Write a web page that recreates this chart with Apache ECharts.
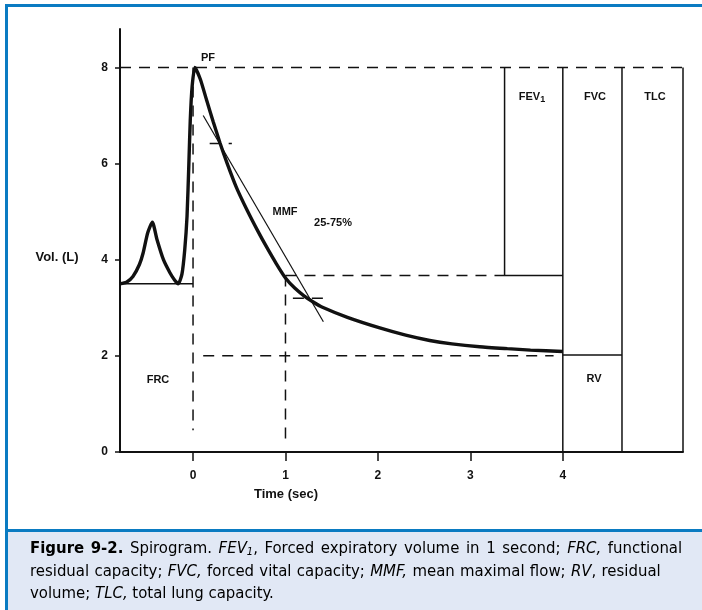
<!DOCTYPE html>
<html>
<head>
<meta charset="utf-8">
<script src="https://cdn.jsdelivr.net/npm/echarts@6/dist/echarts.min.js"></script>
<style>
html,body{margin:0;padding:0;background:#fff;}
#chart{width:702px;height:610px;}
</style>
</head>
<body>
<div id="chart"></div>
<script>
// ---- data (time in sec, volume in L) ----
const xTickValues = [0, 1, 2, 3, 4];
const yTickValues = [0, 2, 4, 6, 8];
const spiroCurve = [
  [-0.79, 3.5], [-0.72, 3.53], [-0.65, 3.65], [-0.58, 3.9], [-0.54, 4.14], [-0.49, 4.56], [-0.44, 4.78],
  [-0.39, 4.42], [-0.32, 4.0], [-0.25, 3.73], [-0.2, 3.58], [-0.16, 3.5],
  [-0.12, 3.7], [-0.09, 4.2], [-0.065, 4.9], [-0.045, 6.0], [-0.03, 6.9], [-0.01, 7.6], [0.02, 8.0],
  [0.08, 7.75], [0.15, 7.3], [0.22, 6.86], [0.29, 6.44], [0.37, 6.0], [0.47, 5.5], [0.58, 5.05],
  [0.7, 4.6], [0.8, 4.25], [0.9, 3.92], [1.0, 3.62], [1.1, 3.41], [1.2, 3.25], [1.3, 3.12], [1.4, 3.01],
  [1.67, 2.8], [2.02, 2.58], [2.3, 2.43], [2.56, 2.32], [2.8, 2.25], [3.1, 2.19], [3.4, 2.15],
  [3.65, 2.12], [4.0, 2.09]
];
const frcBaseline = [[-0.79, 3.5], [0, 3.5]];
const mmfLine = [[0.11, 7.0], [1.41, 2.71]];
const fev1Box = [[3.37, 8], [3.37, 3.67], [4, 3.67]];
const fvcLeft = [[4, 8], [4, 0]];
const fvcRight = [[4.64, 8], [4.64, 0]];
const tlcRight = [[5.3, 8], [5.3, 0]];
const rvTop = [[4, 2.02], [4.64, 2.02]];
const tlcDashed = [[-0.79, 8], [5.3, 8]];
const zeroDashed = [[0, 8], [0, 0.45]];
const oneSecDashed = [[1, 3.67], [1, 0.25]];
const fev1Dashed = [[1, 3.67], [3.37, 3.67]];
const rvDashed = [[0.11, 2.0], [3.9, 2.0]];
const mmf25Dashed = [[0.18, 6.42], [0.42, 6.42]];
const mmf75Dashed = [[1.08, 3.2], [1.43, 3.2]];

const captionLine1 = [['b', 'Figure 9-2.'], ['r', ' Spirogram. '], ['i', 'FEV'], ['is', '1'], ['r', ', Forced expiratory volume in 1 second; '], ['i', 'FRC,'], ['r', ' functional']];
const captionLine2 = [['r', 'residual capacity; '], ['i', 'FVC,'], ['r', ' forced vital capacity; '], ['i', 'MMF,'], ['r', ' mean maximal flow; '], ['i', 'RV'], ['r', ', residual']];
const captionLine3 = [['r', 'volume; '], ['i', 'TLC,'], ['r', ' total lung capacity.']];

const boldFont = "'Liberation Sans', Arial, sans-serif";
const capFont = "'Liberation Sans Narrow', 'DejaVu Sans Condensed', 'Liberation Sans', sans-serif";

function seg(data, width, dashed) {
  return {
    type: 'line', data: data, symbol: 'none', silent: true, animation: false,
    lineStyle: { color: '#111', width: width, type: dashed ? [11, 8] : 'solid' }
  };
}

function txt(x, y, text, size, extra) {
  return Object.assign({
    type: 'text', x: x, y: y, silent: true,
    style: { text: text, fill: '#111', font: 'bold ' + size + 'px ' + boldFont, align: 'center', verticalAlign: 'middle' }
  }, extra || {});
}

const capSize = 16.6;
const capBase = { fontFamily: capFont, fontSize: capSize, color: '#231f20' };
const capRich = function (spaceW) {
  return {
    b: Object.assign({}, capBase, { fontWeight: 'bold' }),
    r: Object.assign({}, capBase),
    i: Object.assign({}, capBase, { fontStyle: 'italic' }),
    is: Object.assign({}, capBase, { fontStyle: 'italic', fontSize: 11, padding: [7, 0, 0, 0] }),
    g: Object.assign({}, capBase, { width: spaceW })
  };
};
function richLine(parts) {
  return parts.map(function (p) {
    return p[1].split(' ').map(function (w) { return w ? '{' + p[0] + '|' + w + '}' : ''; }).join('{g| }');
  }).join('');
}
function captionText(y, parts, spaceW) {
  return {
    type: 'text', x: 30, y: y, silent: true,
    style: { text: richLine(parts), verticalAlign: 'middle', align: 'left', rich: capRich(spaceW) }
  };
}

const chart = echarts.init(document.getElementById('chart'), null, { renderer: 'canvas' });
const option = {
  backgroundColor: '#ffffff',
  animation: false,
  grid: { left: 120, top: 29, width: 563, height: 423, containLabel: false },
  xAxis: {
    type: 'value', min: -0.79, max: 5.3,
    splitLine: { show: false },
    axisLine: { show: true, onZero: false, lineStyle: { color: '#111', width: 2 } },
    axisTick: { show: true, customValues: xTickValues, length: 9, lineStyle: { color: '#111', width: 1.5 } },
    axisLabel: { customValues: xTickValues, margin: 18, color: '#111', fontWeight: 'bold', fontSize: 12, fontFamily: boldFont, formatter: v => String(v) }
  },
  yAxis: {
    type: 'value', min: 0, max: 8.8,
    splitLine: { show: false },
    axisLine: { show: true, onZero: false, lineStyle: { color: '#111', width: 2 } },
    axisTick: { show: true, customValues: yTickValues, length: 5, lineStyle: { color: '#111', width: 1.5 } },
    axisLabel: { customValues: yTickValues, margin: 12, color: '#111', fontWeight: 'bold', fontSize: 12, fontFamily: boldFont, formatter: v => String(v) }
  },
  series: [
    seg(tlcDashed, 1.5, true),
    seg(zeroDashed, 1.5, true),
    seg(oneSecDashed, 1.5, true),
    seg(fev1Dashed, 1.5, true),
    seg(rvDashed, 1.5, true),
    seg(mmf25Dashed, 1.5, true),
    seg(mmf75Dashed, 1.5, true),
    seg(frcBaseline, 1.5, false),
    seg(mmfLine, 1.2, false),
    seg(fev1Box, 1.5, false),
    seg(fvcLeft, 1.5, false),
    seg(fvcRight, 1.5, false),
    seg(tlcRight, 1.5, false),
    seg(rvTop, 1.5, false),
    Object.assign(seg(spiroCurve, 3.4, false), { smooth: 0.2 })
  ],
  graphic: [
    // frame
    { type: 'rect', silent: true, shape: { x: 5, y: 4, width: 697, height: 3 }, style: { fill: '#0a7bc2' } },
    { type: 'rect', silent: true, shape: { x: 5, y: 4, width: 3, height: 606 }, style: { fill: '#0a7bc2' } },
    // caption box
    { type: 'rect', silent: true, shape: { x: 8, y: 531, width: 694, height: 79 }, style: { fill: '#e1e8f5' } },
    { type: 'rect', silent: true, shape: { x: 8, y: 529, width: 694, height: 3 }, style: { fill: '#0a7bc2' } },
    // annotations
    txt(208, 58, 'PF', 11),
    txt(285, 212, 'MMF', 11),
    txt(333, 223, '25-75%', 11),
    {
      type: 'text', x: 532, y: 97, silent: true,
      style: {
        text: '{a|FEV}{s|1}', align: 'center', verticalAlign: 'middle',
        rich: {
          a: { font: 'bold 11px ' + boldFont, fill: '#111' },
          s: { font: 'bold 9px ' + boldFont, fill: '#111', padding: [5, 0, 0, 0] }
        }
      }
    },
    txt(595, 97, 'FVC', 11),
    txt(655, 97, 'TLC', 11),
    txt(594, 379, 'RV', 11),
    txt(158, 380, 'FRC', 11),
    txt(57, 257, 'Vol. (L)', 13),
    txt(286, 494, 'Time (sec)', 13),
    // caption text
    captionText(549, captionLine1, 6.6),
    captionText(572, captionLine2, 5.3),
    captionText(594, captionLine3, 4.7)
  ]
};
chart.setOption(option);
</script>
</body>
</html>
